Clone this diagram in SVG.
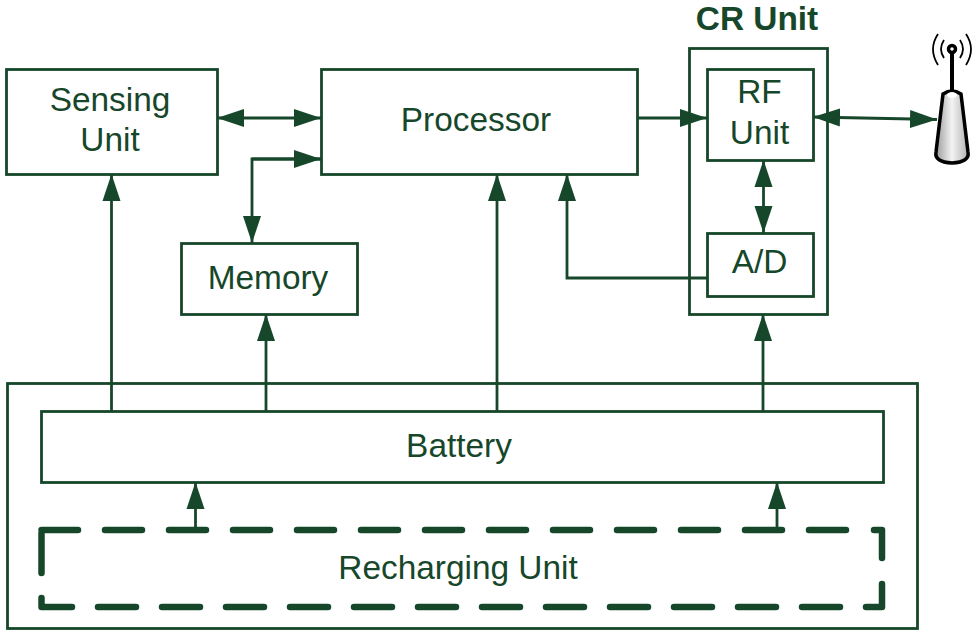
<svg xmlns="http://www.w3.org/2000/svg" width="973" height="630" viewBox="0 0 973 630">
<style>
.box{fill:#fff;stroke:#17472a;stroke-width:2.8}
.frame{fill:none;stroke:#17472a;stroke-width:2.8}
.t{font-family:"Liberation Sans",Arial,sans-serif;font-size:33.4px;fill:#17472a;text-anchor:middle}
.b{font-weight:bold}
.c{fill:none;stroke:#17472a;stroke-width:2.8}
.e{marker-end:url(#a)}
.s{marker-start:url(#as)}
</style>
<defs>
<marker id="a" markerUnits="userSpaceOnUse" markerWidth="28" markerHeight="20" refX="27" refY="10" orient="auto"><path d="M0 1L27 10L0 19Z" fill="#17472a"/></marker>
<marker id="as" markerUnits="userSpaceOnUse" markerWidth="28" markerHeight="20" refX="1" refY="10" orient="auto"><path d="M28 1L1 10L28 19Z" fill="#17472a"/></marker>
<linearGradient id="g" x1="0" x2="1" y1="0" y2="0"><stop offset="0" stop-color="#9a9a9a"/><stop offset=".5" stop-color="#f4f4f4"/><stop offset="1" stop-color="#b0b0b0"/></linearGradient>
</defs>
<g id="recharging-frame"><rect class="frame" x="7.5" y="383.5" width="910" height="245"/></g>
<g id="connectors">
<path class="c e s" d="M217 118H321"/>
<path class="c e" d="M321 159H252V243"/>
<path class="c e" d="M252 159H321"/>
<path class="c e" d="M111.500 411V174"/>
<path class="c e" d="M266 411V314"/>
<path class="c e" d="M497 411V174"/>
<path class="c e" d="M763 411V314"/>
<path class="c e" d="M637 118H707"/>
<path class="c e" d="M707 278H567V174"/>
<path class="c e s" d="M763.500 160V233"/>
<path class="c e s" d="M813 117L937 119.500"/>
<path class="c e" d="M195.500 530V482"/>
<path class="c e" d="M777 530V482"/>
</g>
<g id="sensing-unit"><rect class="box" x="6.500" y="69.500" width="211" height="105"/><text class="t" x="110" y="111">Sensing</text><text class="t" x="110" y="151">Unit</text></g>
<g id="processor"><rect class="box" x="321.500" y="69.500" width="316" height="105"/><text class="t" x="476" y="131">Processor</text></g>
<g id="memory"><rect class="box" x="181.500" y="243.500" width="176" height="71"/><text class="t" x="268" y="289">Memory</text></g>
<g id="cr-unit"><rect class="frame" x="689.500" y="48.500" width="138" height="266"/><text class="t b" x="757" y="30">CR Unit</text></g>
<g id="rf-unit"><rect class="box" x="707.500" y="69.500" width="106" height="91"/><text class="t" x="759.500" y="103">RF</text><text class="t" x="759.500" y="144">Unit</text></g>
<g id="ad"><rect class="box" x="707.500" y="233.500" width="106" height="63"/><text class="t" x="759.500" y="273">A/D</text></g>
<g id="battery"><rect class="box" x="41.500" y="411.500" width="842" height="71"/><text class="t" x="459" y="457">Battery</text></g>
<g id="recharging-unit">
<path fill="none" stroke="#17472a" stroke-width="6.500" stroke-linecap="round" stroke-linejoin="round" d="M78 530H41.500M41.500 533V573M41.500 598V607H72M874 530H882V558M882 584V607H866
M105 530H142M169 530H206M233 530H270M297 530H334M361 530H398M425 530H462M489 530H526M553 530H590M617 530H654M681 530H718M745 530H782M809 530H846
M98 607H136M162 607H200M226 607H264M290 607H328M354 607H392M418 607H456M482 607H520M546 607H584M610 607H648M674 607H712M738 607H776M802 607H840"/>
<text class="t" x="458" y="579">Recharging Unit</text>
</g>
<g id="antenna">
<path d="M952 52V92" stroke="#000" stroke-width="4" fill="none"/>
<path d="M943 94Q952 88 961 94L968 152Q970 162 952 163Q934 162 936 152Z" fill="url(#g)" stroke="#000" stroke-width="3.500"/>
<ellipse cx="952" cy="95" rx="5" ry="3" fill="#fff"/>
<circle cx="952" cy="49" r="3.500" fill="#fff" stroke="#000" stroke-width="3.500"/>
<path d="M944 40Q938 49 944 58M960 40Q966 49 960 58M938 34Q928 49 938 65M966 34Q976 49 966 65" fill="none" stroke="#000" stroke-width="1.800"/>
</g>
</svg>
